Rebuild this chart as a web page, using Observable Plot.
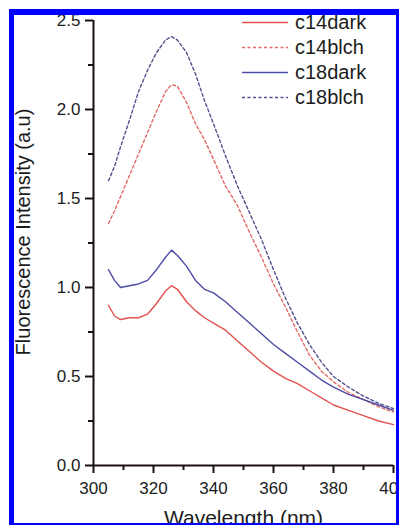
<!DOCTYPE html>
<html>
<head>
<meta charset="utf-8">
<script src="https://cdn.jsdelivr.net/npm/d3@7"></script>
<script src="https://cdn.jsdelivr.net/npm/@observablehq/plot@0.6"></script>
<style>
html, body { margin: 0; padding: 0; background: #fff; }
#wrap { position: relative; width: 399px; height: 525px; overflow: hidden; font-family: "Liberation Sans", Arial, sans-serif; }
#chart { position: absolute; left: 0; top: 0; }
#legend { position: absolute; left: 242px; top: 10px; }
.row { display: flex; align-items: center; height: 25px; }
.row span { font-size: 20px; color: #1c1c1c; margin-left: 7px; line-height: 25px; }
#frame { position: absolute; left: 9px; top: 9px; right: 0; bottom: 0; border-style: solid; border-color: #0000ff; border-width: 6px 3px 2px 5px; pointer-events: none; }
</style>
</head>
<body>
<div id="wrap">
  <div id="chart"></div>
  <div id="legend"></div>
  <div id="frame"></div>
</div>
<script>
// Data
const wavelength = [305,307,309,312,315,318,321,324,326,328,331,334,337,340,344,348,352,356,360,364,368,372,376,380,385,390,395,400];
const c14dark = [0.90,0.84,0.82,0.83,0.83,0.85,0.91,0.98,1.01,0.99,0.92,0.87,0.83,0.80,0.76,0.70,0.64,0.58,0.53,0.49,0.46,0.42,0.38,0.34,0.31,0.28,0.25,0.23];
const c14blch = [1.36,1.43,1.51,1.63,1.75,1.87,1.99,2.10,2.14,2.13,2.04,1.92,1.83,1.72,1.57,1.46,1.31,1.17,1.02,0.89,0.75,0.62,0.53,0.47,0.41,0.37,0.33,0.30];
const c18dark = [1.10,1.04,1.00,1.01,1.02,1.04,1.10,1.17,1.21,1.18,1.12,1.04,0.99,0.97,0.92,0.86,0.80,0.74,0.68,0.63,0.58,0.53,0.48,0.44,0.40,0.37,0.34,0.31];
const c18blch = [1.60,1.68,1.79,1.94,2.10,2.22,2.32,2.39,2.41,2.39,2.32,2.20,2.05,1.92,1.74,1.57,1.42,1.27,1.10,0.94,0.80,0.68,0.58,0.50,0.44,0.39,0.35,0.32];

const seriesNames = ["c14dark", "c14blch", "c18dark", "c18blch"];
const seriesValues = [c14dark, c14blch, c18dark, c18blch];
const seriesColors = ["#e2504f", "#e36a66", "#4c4ca6", "#52528f"];
const seriesDash = [null, "3,2.5", null, "3,2.5"];

const xTicks = [300, 320, 340, 360, 380, 400];
const xMinorTicks = [310, 330, 350, 370, 390];
const yTicks = [0, 0.5, 1.0, 1.5, 2.0, 2.5];
const yMinorTicks = [0.25, 0.75, 1.25, 1.75, 2.25];

const xTitle = "Wavelength (nm)";
const yTitle = "Fluorescence Intensity (a.u)";

const axisColor = "#1a1010";

const lineMarks = seriesNames.map((name, i) => {
  const rows = wavelength.map((w, j) => ({wavelength: w, value: seriesValues[i][j], series: name}));
  const opts = {x: "wavelength", y: "value", stroke: seriesColors[i], strokeWidth: 1.4};
  if (seriesDash[i]) opts.strokeDasharray = seriesDash[i];
  return Plot.line(rows, opts);
});

const plot = Plot.plot({
  width: 399,
  height: 525,
  marginLeft: 93,
  marginRight: 6,
  marginTop: 20,
  marginBottom: 60,
  style: {fontFamily: "'Liberation Sans', Arial, sans-serif", background: "transparent", color: "#1c1c1c"},
  x: {domain: [300, 400]},
  y: {domain: [0, 2.5]},
  marks: [
    ...lineMarks,
    Plot.axisX({ticks: xTicks, tickSize: 8, tickPadding: 8, tickFormat: d => String(d), fontSize: 17, stroke: axisColor, strokeWidth: 2, label: null}),
    Plot.axisX({ticks: xMinorTicks, tickSize: 5, tickFormat: () => "", stroke: axisColor, strokeWidth: 2, label: null}),
    Plot.axisY({ticks: yTicks, tickSize: 8, tickPadding: 5, tickFormat: d3.format(".1f"), fontSize: 17, stroke: axisColor, strokeWidth: 2, label: null}),
    Plot.axisY({ticks: yMinorTicks, tickSize: 5, tickFormat: () => "", stroke: axisColor, strokeWidth: 2, label: null}),
    Plot.ruleY([0], {stroke: axisColor, strokeWidth: 2}),
    Plot.ruleX([300], {stroke: axisColor, strokeWidth: 2}),
    Plot.text([xTitle], {frameAnchor: "bottom", dy: 53, fontSize: 21, lineAnchor: "middle", textAnchor: "middle", fill: "#1c1c1c"}),
    Plot.text([yTitle], {frameAnchor: "left", dx: -70, dy: -11, rotate: -90, fontSize: 20, lineAnchor: "middle", textAnchor: "middle", fill: "#1c1c1c"})
  ]
});
document.getElementById("chart").appendChild(plot);

// Legend
const legend = document.getElementById("legend");
seriesNames.forEach((name, i) => {
  const row = document.createElement("div");
  row.className = "row";
  const ns = "http://www.w3.org/2000/svg";
  const svg = document.createElementNS(ns, "svg");
  svg.setAttribute("width", "46");
  svg.setAttribute("height", "25");
  const line = document.createElementNS(ns, "line");
  line.setAttribute("x1", "0"); line.setAttribute("x2", "46");
  line.setAttribute("y1", "12.5"); line.setAttribute("y2", "12.5");
  line.setAttribute("stroke", seriesColors[i]);
  line.setAttribute("stroke-width", "1.4");
  if (seriesDash[i]) line.setAttribute("stroke-dasharray", seriesDash[i]);
  svg.appendChild(line);
  const label = document.createElement("span");
  label.textContent = name;
  row.appendChild(svg);
  row.appendChild(label);
  legend.appendChild(row);
});
</script>
</body>
</html>
